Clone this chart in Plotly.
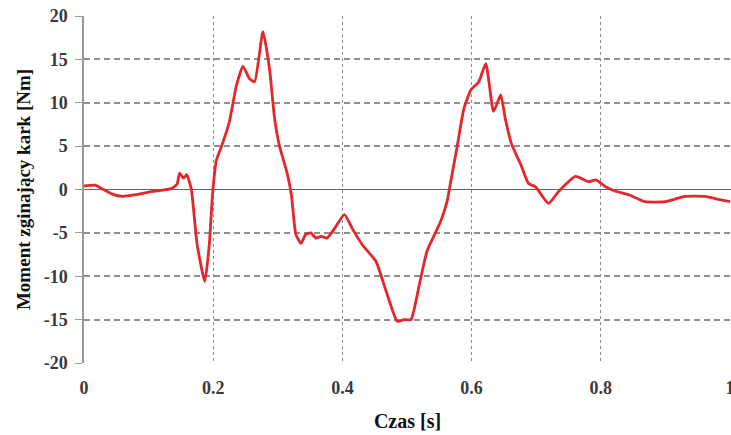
import plotly.graph_objects as go

time_s = [0.000, 0.017, 0.030, 0.043, 0.060, 0.080, 0.100, 0.118, 0.135, 0.144, 0.148, 0.154, 0.159, 0.166,
          0.175, 0.187, 0.194, 0.199, 0.205, 0.213, 0.225, 0.236, 0.246, 0.256, 0.264, 0.277, 0.287, 0.295,
          0.302, 0.315, 0.321, 0.328, 0.336, 0.343, 0.351, 0.359, 0.367, 0.376, 0.387, 0.403, 0.416,
          0.431, 0.452, 0.468, 0.485, 0.495, 0.506, 0.519, 0.531, 0.552, 0.562, 0.565, 0.577, 0.588,
          0.599, 0.611, 0.622, 0.634, 0.645, 0.652, 0.662, 0.676, 0.688, 0.699, 0.719, 0.735, 0.761,
          0.781, 0.792, 0.808, 0.823, 0.843, 0.868, 0.900, 0.930, 0.961, 0.986, 1.000]
moment_nm = [0.4, 0.5, 0.0, -0.5, -0.8, -0.6, -0.3, -0.1, 0.1, 0.6, 1.9, 1.3, 1.7, 0.1,
             -6.3, -10.6, -6.3, -0.5, 3.4, 5.0, 7.8, 12.0, 14.2, 12.8, 12.4, 18.2, 14.0, 8.2,
             5.2, 1.7, -0.6, -5.2, -6.2, -5.2, -5.0, -5.6, -5.4, -5.6, -4.6, -2.9, -4.6,
             -6.4, -8.3, -11.8, -15.2, -15.0, -15.0, -11.0, -7.1, -3.7, -1.4, -0.2, 4.7, 9.3,
             11.5, 12.4, 14.5, 9.0, 10.9, 8.2, 5.2, 2.9, 0.7, 0.3, -1.6, -0.2, 1.5,
             0.9, 1.1, 0.3, -0.2, -0.6, -1.4, -1.4, -0.8, -0.8, -1.2, -1.4]

x_ticks = [0, 0.2, 0.4, 0.6, 0.8, 1]
x_tick_labels = ["0", "0.2", "0.4", "0.6", "0.8", "1"]
y_ticks = [-20, -15, -10, -5, 0, 5, 10, 15, 20]
y_tick_labels = ["-20", "-15", "-10", "-5", "0", "5", "10", "15", "20"]

fig = go.Figure()
fig.add_trace(go.Scatter(x=time_s, y=moment_nm, mode="lines",
                         line=dict(color="#e5262b", width=2.8, shape="spline", smoothing=0.5),
                         showlegend=False, hoverinfo="skip"))

font_serif = "Liberation Serif"
fig.update_layout(
    width=731, height=435,
    margin=dict(l=84, r=0, t=16, b=72, autoexpand=False),
    paper_bgcolor="white", plot_bgcolor="white",
    font=dict(family=font_serif, size=18, color="#3a3a3a"),
    xaxis=dict(range=[0, 1.0015], tickvals=x_ticks, automargin=False,
               ticktext=["<b>" + t + "</b>" for t in x_tick_labels],
               showgrid=True, gridcolor="#8a8a8a", griddash="3px,3px", gridwidth=1.2,
               zeroline=False, showline=False, ticks="",
               ticklabelstandoff=12, ticklabeloverflow="allow",
               tickfont=dict(family=font_serif, size=18, color="#3a3a3a"),
               title=dict(text="<b>Czas [s]</b>", font=dict(family=font_serif, size=20, color="#111111"),
                          standoff=16)),
    yaxis=dict(range=[-20, 20], tickvals=y_ticks, automargin=False,
               ticktext=["<b>" + t + "</b>" for t in y_tick_labels],
               showgrid=True, gridcolor="#8f8f8f", griddash="6px,4px", gridwidth=1.8,
               zeroline=True, zerolinecolor="#666666", zerolinewidth=1.2,
               showline=True, linecolor="#999999", linewidth=1.5,
               ticks="outside", ticklen=7, tickcolor="#999999",
               ticklabelstandoff=4,
               tickfont=dict(family=font_serif, size=18, color="#3a3a3a"),
               title=dict(text="<b>Moment zginający kark [Nm]</b>",
                          font=dict(family=font_serif, size=19, color="#111111"),
                          standoff=8)),
)

fig.write_html("out.html")
